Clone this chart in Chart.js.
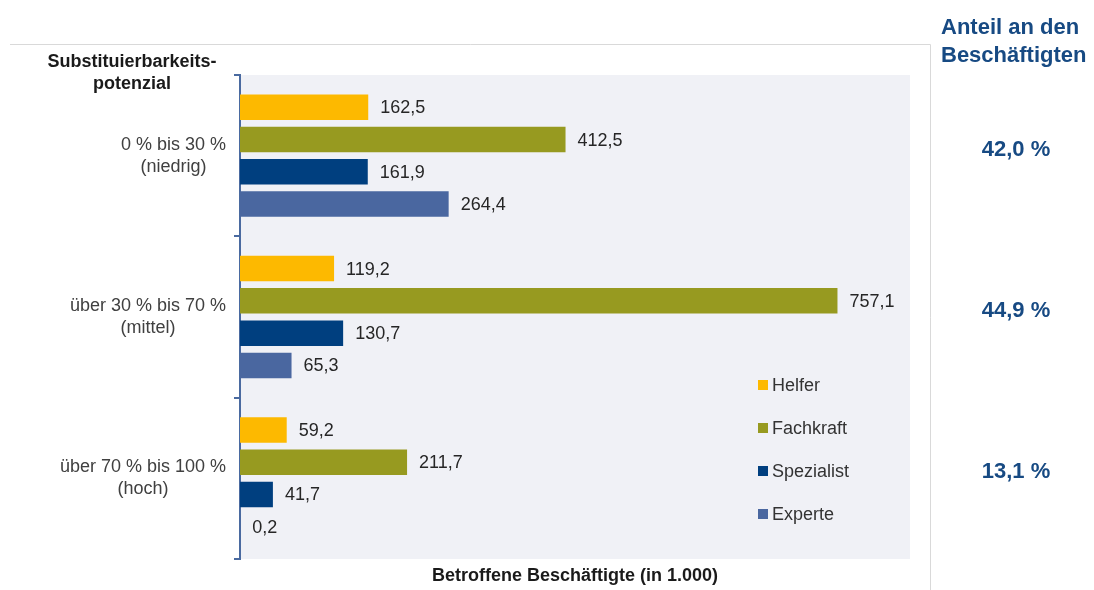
<!DOCTYPE html>
<html lang="de">
<head>
<meta charset="utf-8">
<script src="https://cdn.jsdelivr.net/npm/chart.js@4.4.1/dist/chart.umd.min.js"></script>
<style>
    html, body { margin: 0; padding: 0; background: #fff; }
    canvas { display: block; }
</style>
</head>
<body>
<canvas id="substitution-chart" width="1094" height="590"></canvas>
<script>
const categories = [
    ['0 % bis 30 %', '(niedrig)'],
    ['über 30 % bis 70 %', '(mittel)'],
    ['über 70 % bis 100 %', '(hoch)']
];
const seriesNames = ['Helfer', 'Fachkraft', 'Spezialist', 'Experte'];
const helfer = [162.5, 119.2, 59.2];
const fachkraft = [412.5, 757.1, 211.7];
const spezialist = [161.9, 130.7, 41.7];
const experte = [264.4, 65.3, 0.2];
const anteilBeschaeftigte = [42.0, 44.9, 13.1];

const colors = ['#fdb900', '#979a20', '#003f7f', '#4a67a0'];
const axisBlue = '#4a6aa0';
const titleBlue = '#174a83';
const FONT = '"Liberation Sans", Arial, sans-serif';

Chart.defaults.font.family = FONT;

const fmt = v => v.toFixed(1).replace('.', ',');

// plot background, frame lines, labels, legend and the right column
const decorations = {
    id: 'decorations',
    beforeDraw(chart) {
        const {ctx, chartArea} = chart;
        ctx.save();
        ctx.fillStyle = '#f0f1f6';
        ctx.fillRect(chartArea.left, chartArea.top, chartArea.right - chartArea.left, chartArea.bottom - chartArea.top);
        // outer frame
        ctx.strokeStyle = '#d9d9d9';
        ctx.lineWidth = 1;
        ctx.beginPath();
        ctx.moveTo(10, 44.5);
        ctx.lineTo(930.5, 44.5);
        ctx.lineTo(930.5, 590);
        ctx.stroke();
        ctx.restore();
    },
    afterDatasetsDraw(chart) {
        const {ctx} = chart;
        ctx.save();
        ctx.font = '18px ' + FONT;
        ctx.fillStyle = '#262626';
        ctx.textBaseline = 'middle';
        ctx.textAlign = 'left';
        chart.data.datasets.forEach((ds, i) => {
            chart.getDatasetMeta(i).data.forEach((bar, j) => {
                ctx.fillText(fmt(ds.data[j]), bar.x + 12, bar.y + 1);
            });
        });
        ctx.restore();
    },
    afterDraw(chart) {
        const {ctx, chartArea, scales} = chart;
        const y = scales.y;
        ctx.save();

        // category labels: block right aligned, lines centred in block
        ctx.font = '18px ' + FONT;
        ctx.fillStyle = '#404040';
        ctx.textBaseline = 'middle';
        ctx.textAlign = 'center';
        categories.forEach((lines, i) => {
            const cy = y.getPixelForValue(i);
            const w = Math.max(...lines.map(l => ctx.measureText(l).width));
            const cx = 226 - w / 2;
            lines.forEach((l, k) => {
                ctx.fillText(l, cx, cy + (k - (lines.length - 1) / 2) * 22);
            });
        });

        // axis heading
        ctx.font = 'bold 18px ' + FONT;
        ctx.fillStyle = '#1a1a1a';
        ctx.fillText('Substituierbarkeits-', 132, 62);
        ctx.fillText('potenzial', 132, 84);

        // legend inside plot
        ctx.font = '18px ' + FONT;
        ctx.textAlign = 'left';
        seriesNames.forEach((name, i) => {
            const ly = chartArea.top + 310 + i * 43;
            ctx.fillStyle = colors[i];
            ctx.fillRect(758, ly - 5, 10, 10);
            ctx.fillStyle = '#333';
            ctx.fillText(name, 772, ly + 1);
        });

        // right column
        ctx.fillStyle = titleBlue;
        ctx.font = 'bold 22px ' + FONT;
        ctx.fillText('Anteil an den', 941, 28);
        ctx.fillText('Beschäftigten', 941, 56);
        ctx.textAlign = 'center';
        anteilBeschaeftigte.forEach((v, i) => {
            ctx.fillText(fmt(v) + ' %', 1016, y.getPixelForValue(i) - 6);
        });
        ctx.restore();
    }
};

const canvas = document.querySelector('#substitution-chart');

new Chart(canvas, {
    type: 'bar',
    data: {
        labels: categories,
        datasets: [
            {label: seriesNames[0], data: helfer, backgroundColor: colors[0]},
            {label: seriesNames[1], data: fachkraft, backgroundColor: colors[1]},
            {label: seriesNames[2], data: spezialist, backgroundColor: colors[2]},
            {label: seriesNames[3], data: experte, backgroundColor: colors[3]}
        ]
    },
    options: {
        indexAxis: 'y',
        responsive: false,
        animation: false,
        layout: {
            padding: {top: 75, right: 184, bottom: 0, left: 0}
        },
        datasets: {
            bar: {
                categoryPercentage: 0.8,
                barPercentage: 0.79,
                borderWidth: 0
            }
        },
        plugins: {
            legend: {display: false},
            tooltip: {enabled: false}
        },
        scales: {
            x: {
                min: 0,
                max: 849,
                grid: {display: false},
                border: {display: false},
                ticks: {display: false},
                title: {
                    display: true,
                    text: 'Betroffene Beschäftigte (in 1.000)',
                    color: '#1a1a1a',
                    font: {size: 18, weight: 'bold'},
                    padding: {top: 0, bottom: 3}
                },
                afterFit: s => { s.height = 31; }
            },
            y: {
                ticks: {display: false},
                grid: {
                    drawOnChartArea: false,
                    drawTicks: true,
                    tickLength: 6,
                    color: axisBlue,
                    lineWidth: 2
                },
                border: {color: axisBlue, width: 2},
                afterFit: s => { s.width = 240; }
            }
        }
    },
    plugins: [decorations]
});
</script>
</body>
</html>
